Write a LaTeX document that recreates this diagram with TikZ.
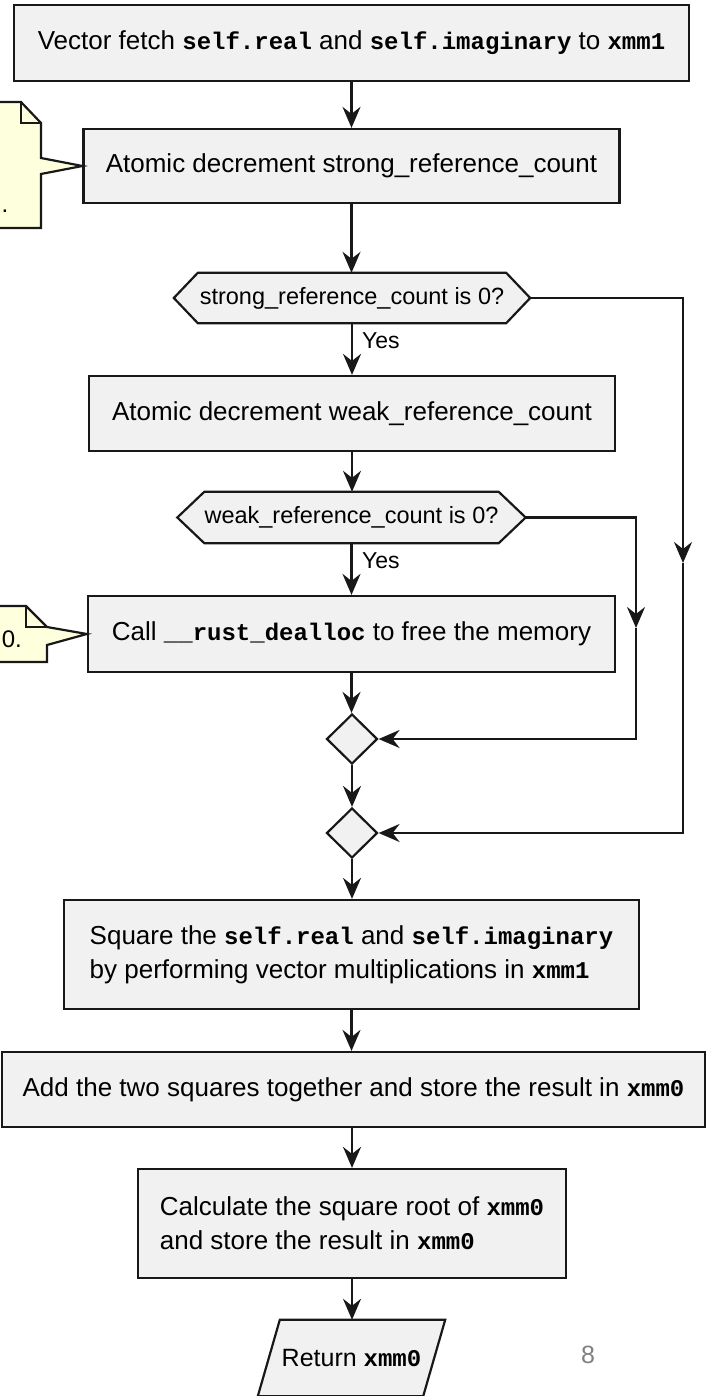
\documentclass[tikz,border=0pt]{standalone}
\usepackage{fontspec}
\setmainfont{Liberation Sans}
\newfontfamily\monof{Liberation Mono}
\usetikzlibrary{arrows.meta,shapes.geometric,backgrounds}
\definecolor{boxfill}{HTML}{F1F1F1}
\definecolor{boxline}{HTML}{181818}
\definecolor{notefill}{HTML}{FEFFDD}
\definecolor{pagegray}{HTML}{808080}
\newcommand{\cd}[1]{{\monof\bfseries\fontsize{24}{34}\selectfont #1}}
\begin{document}
\begin{tikzpicture}[x=1pt,y=-1pt,
  stepbox/.style={draw=boxline, fill=boxfill, line width=2.2pt, inner sep=0pt,
    font=\fontsize{26}{34}\selectfont, align=center},
  decbox/.style={draw=none, inner sep=0pt, font=\fontsize{23.5}{30}\selectfont},
  decshape/.style={draw=boxline, fill=boxfill, line width=2.2pt, line join=miter},
  mergebox/.style={diamond, draw=boxline, fill=boxfill, line width=2.2pt, inner sep=0pt,
    minimum width=51pt, minimum height=50pt},
  notestyle/.style={draw=boxline, fill=notefill, line width=2.2pt, line join=miter},
  conn/.style={draw=boxline, line width=2.2pt},
  arr/.style={conn, -{Stealth[length=21pt,width=18pt,inset=7pt]}},
  lbl/.style={inner sep=0pt, font=\fontsize{23}{27}\selectfont, anchor=west},
  notetext/.style={inner sep=0pt, font=\fontsize{24}{30}\selectfont}
]
\useasboundingbox (0,0) rectangle (707,1396);
\clip (0,0) rectangle (707,1396);

% boxes
\node[stepbox, minimum width=675pt, minimum height=76pt] (b1) at (351.5,43)
  {Vector fetch \cd{self.real} and \cd{self.imaginary} to \cd{xmm1}};
\node[stepbox, minimum width=536pt, minimum height=74pt] (b2) at (351.5,166)
  {Atomic decrement strong\_reference\_count};
\node[decbox, minimum width=356pt, minimum height=50pt] (d1) at (352,298)
  {strong\_reference\_count is 0?};
\node[stepbox, minimum width=526pt, minimum height=75pt] (b3) at (352,413.5)
  {Atomic decrement weak\_reference\_count};
\node[decbox, minimum width=348pt, minimum height=51pt] (d2) at (351.5,517.5)
  {weak\_reference\_count is 0?};
\node[stepbox, minimum width=527pt, minimum height=76pt] (b4) at (351.5,634)
  {Call \cd{\_\_rust\_dealloc} to free the memory};
\node[mergebox] (m1) at (352,739) {};
\node[mergebox] (m2) at (352,833) {};
\node[stepbox, minimum width=575pt, minimum height=109pt, align=left] (b5) at (351.5,954.5)
  {Square the \cd{self.real} and \cd{self.imaginary}\\by performing vector multiplications in \cd{xmm1}};
\node[stepbox, minimum width=703pt, minimum height=75pt] (b6) at (353.5,1089.5)
  {Add the two squares together and store the result in \cd{xmm0}};
\node[stepbox, minimum width=428pt, minimum height=109pt, align=left] (b7) at (352,1223.5)
  {Calculate the square root of \cd{xmm0}\\and store the result in \cd{xmm0}};
\node[decbox, font=\fontsize{25}{34}\selectfont, minimum width=187pt, minimum height=76pt] (ret) at (351.5,1358)
  {Return \cd{xmm0}};
\node[inner sep=0pt, text=pagegray, font=\fontsize{25}{30}\selectfont] (pg) at (588,1355) {8};

% shapes behind decision / output nodes
\begin{scope}[on background layer]
  \draw[decshape] (d1.west) -- ([xshift=24pt]d1.north west) -- ([xshift=-24pt]d1.north east)
    -- (d1.east) -- ([xshift=-24pt]d1.south east) -- ([xshift=24pt]d1.south west) -- cycle;
  \draw[decshape] (d2.west) -- ([xshift=27pt]d2.north west) -- ([xshift=-27pt]d2.north east)
    -- (d2.east) -- ([xshift=-27pt]d2.south east) -- ([xshift=27pt]d2.south west) -- cycle;
  \draw[decshape] ([xshift=22pt]ret.north west) -- (ret.north east)
    -- ([xshift=-22pt]ret.south east) -- (ret.south west) -- cycle;
\end{scope}

% notes
\draw[notestyle] (-60,102) -- (21,102) -- (41,123) -- (41,158) -- (b2.west) -- (41,174)
  -- (41,228) -- (-60,228) -- cycle;
\draw[conn, line join=miter] (21,102) -- (21,123) -- (41,123);
\node[notetext, anchor=base] (n1t) at (5,213) {.};
\draw[notestyle] (-60,606) -- (26,606) -- (47,627) -- (b4.west) -- (47,645)
  -- (47,662) -- (-60,662) -- cycle;
\draw[conn, line join=miter] (26,606) -- (26,627) -- (47,627);
\node[notetext, anchor=base east] (n2t) at (22,647) {0.};

% main flow
\draw[arr] (b1.south) -- (b1.south |- b2.north);
\draw[arr] (b2.south) -- (b2.south |- d1.north);
\draw[arr] (d1.south) -- (d1.south |- b3.north);
\node[lbl] (y1) at (362,341) {Yes};
\draw[arr] (b3.south) -- (b3.south |- d2.north);
\draw[arr] (d2.south) -- (d2.south |- b4.north);
\node[lbl] (y2) at (362,561) {Yes};
\draw[arr] (b4.south) -- (b4.south |- m1.north);
\draw[arr] (m1.south) -- (m2.north);
\draw[arr] (m2.south) -- (m2.south |- b5.north);
\draw[arr] (b5.south) -- (b5.south |- b6.north);
\draw[arr] (b7.north |- b6.south) -- (b7.north);
\draw[arr] (b7.south) -- (b7.south |- ret.north);

% loops on the right
\coordinate (r1a) at (683,298);
\coordinate (r1m) at (683,563);
\coordinate (r1b) at (683,833);
\draw[arr] (d1.east) -- (r1a) -- (r1m);
\draw[arr] (r1m) -- (r1b) -- (m2.east);
\coordinate (r2a) at (636,517.5);
\coordinate (r2m) at (636,628);
\coordinate (r2b) at (636,739);
\draw[arr] (d2.east) -- (r2a) -- (r2m);
\draw[arr] (r2m) -- (r2b) -- (m1.east);
\end{tikzpicture}
\end{document}
